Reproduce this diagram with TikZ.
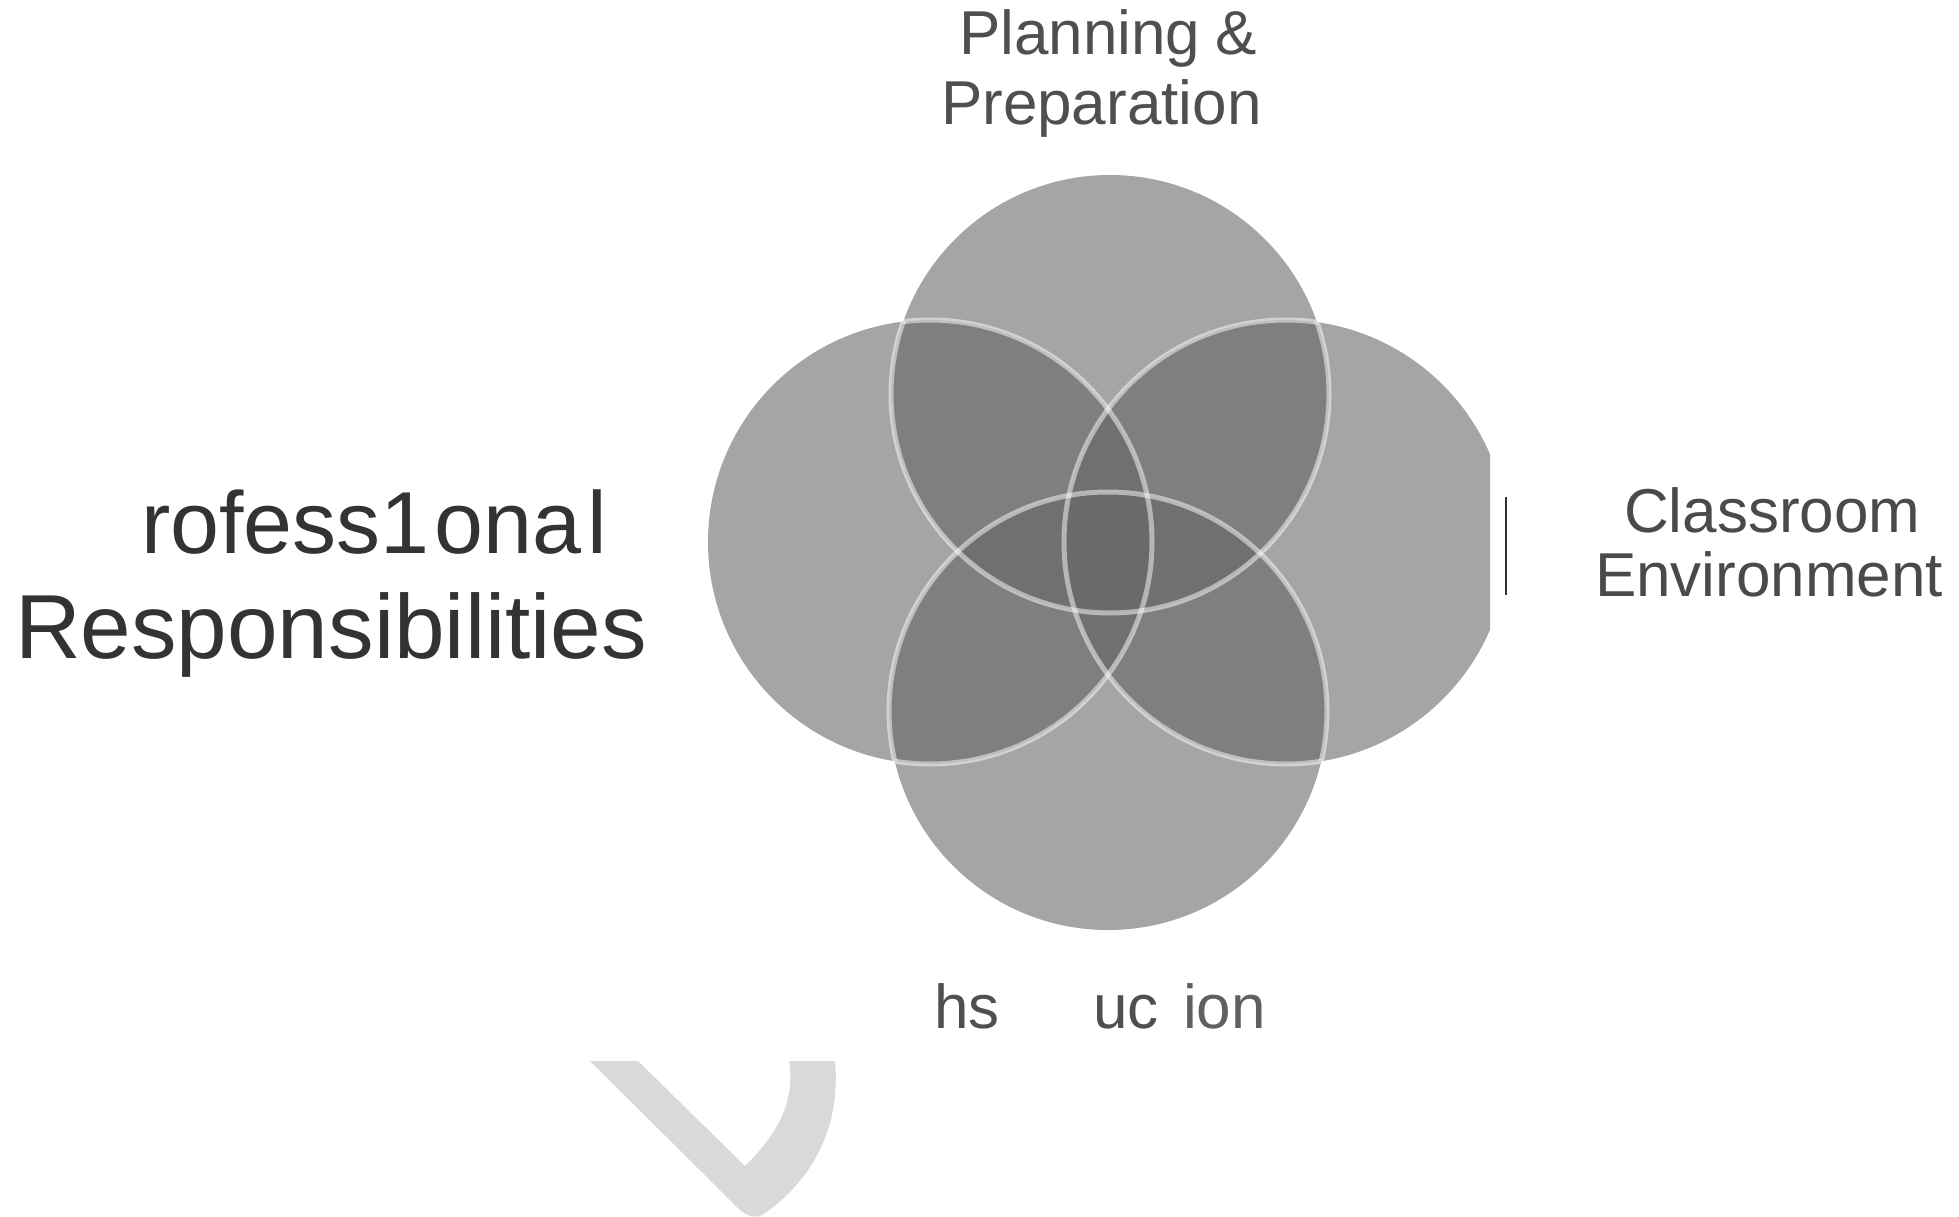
\documentclass[tikz,border=0pt]{standalone}
\usepackage{fontspec}
\setmainfont{Liberation Sans}
\definecolor{circfill}{RGB}{102,102,102}
\definecolor{checkgray}{RGB}{217,217,217}
\definecolor{txtA}{RGB}{79,79,79}
\definecolor{txtB}{RGB}{51,51,51}
\definecolor{txtC}{RGB}{74,74,74}
\definecolor{txtD}{RGB}{96,96,96}
\begin{document}
\begin{tikzpicture}[x=1pt,y=-1pt,
  lbl/.style={anchor=base west, inner sep=0pt, outer sep=0pt, font=\fontsize{62}{62}\selectfont},
  biglbl/.style={anchor=base west, inner sep=0pt, outer sep=0pt, font=\fontsize{91}{91}\selectfont, text=txtB},
  circ/.style={fill=circfill, fill opacity=0.59},
  ring/.style={draw=white, line width=5pt, draw opacity=0.5}]
\path[use as bounding box, fill=white] (0,0) rectangle (1959,1217);

% circle centres
\coordinate (cT) at (1110,394);
\coordinate (cB) at (1108,711);
\coordinate (cL) at (930,542);
\coordinate (cR) at (1286,542);

\begin{scope}
  \clip (0,0) rectangle (1490,1217);
  \fill[circ] (cT) circle[radius=219pt];
  \fill[circ] (cL) circle[radius=222pt];
  \fill[circ] (cR) circle[radius=222pt];
  \fill[circ] (cB) circle[radius=219pt];
  % light rings, shown only inside the other circles
  \begin{scope}
    \clip (cL) circle[radius=222pt] (cR) circle[radius=222pt] (cB) circle[radius=219pt];
    \draw[ring] (cT) circle[radius=219pt];
  \end{scope}
  \begin{scope}
    \clip (cT) circle[radius=219pt] (cR) circle[radius=222pt] (cB) circle[radius=219pt];
    \draw[ring] (cL) circle[radius=222pt];
  \end{scope}
  \begin{scope}
    \clip (cT) circle[radius=219pt] (cL) circle[radius=222pt] (cB) circle[radius=219pt];
    \draw[ring] (cR) circle[radius=222pt];
  \end{scope}
  \begin{scope}
    \clip (cT) circle[radius=219pt] (cL) circle[radius=222pt] (cR) circle[radius=222pt];
    \draw[ring] (cB) circle[radius=219pt];
  \end{scope}
\end{scope}

% thin vertical bar
\coordinate (barT) at (1506,497);
\coordinate (barB) at (1506,595);
\draw[line width=2pt, color=txtB] (barT) -- (barB);

% grey check shape
\fill[checkgray] (590,1061) -- (638,1061) -- (745,1166)
  .. controls (776,1136) and (796,1102) .. (789,1061) -- (835,1061)
  .. controls (842,1140) and (800,1190) .. (762,1215)
  .. controls (752,1219) and (744,1214) .. (738,1208) -- cycle;

% labels
\node[lbl, text=txtA] (plan1) at (959,55) {Planning\hspace{15pt}\&};
\node[lbl, text=txtA] (plan2) at (941,125) {Preparation};
\node[biglbl, font=\fontsize{88}{88}\selectfont] (prof1) at (141,553) {rofess1\hspace{5pt}ona\hspace{6pt}l};
\node[biglbl] (prof2) at (15,658) {Responsibilities};
\node[lbl, text=txtC] (class1) at (1624,532) {Classroom};
\node[lbl, text=txtC] (class2) at (1595,596) {Environment};
\node[lbl, text=txtA] (ins1) at (934,1028) {hs};
\node[lbl, text=txtA] (ins2) at (1093,1028) {uc};
\node[lbl, text=txtD] (ins3) at (1183,1028) {ion};
\end{tikzpicture}
\end{document}
